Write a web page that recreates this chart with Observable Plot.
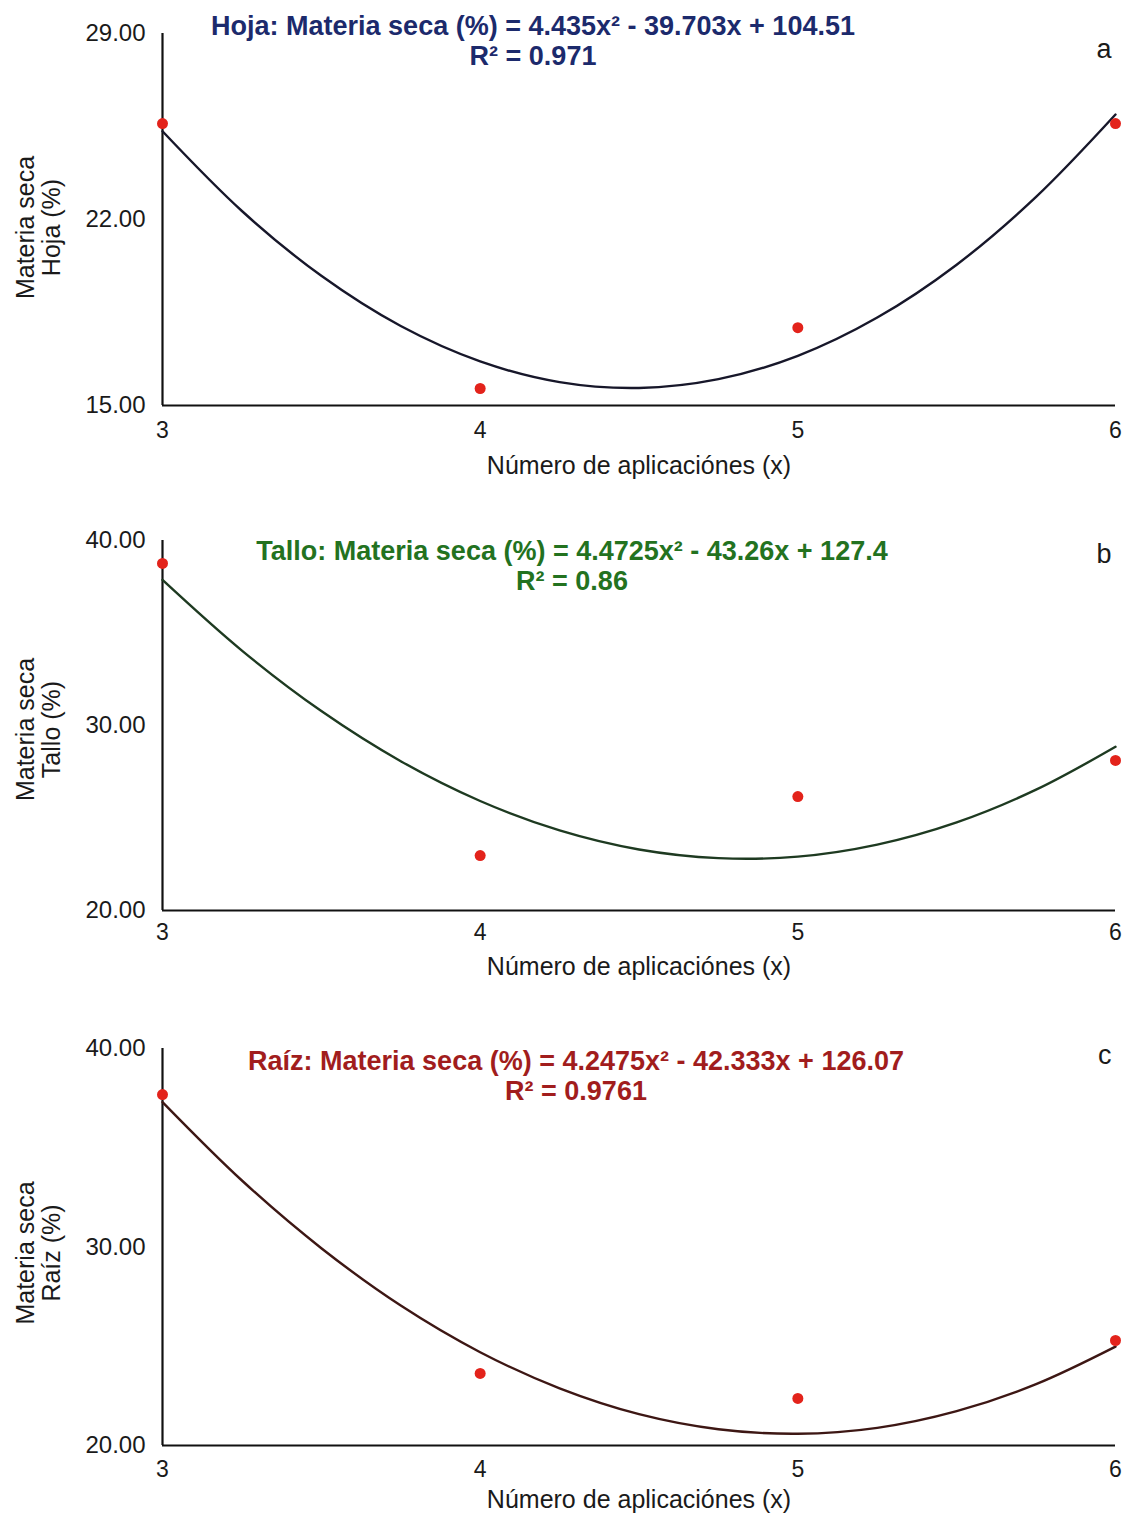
<!DOCTYPE html>
<html>
<head>
<meta charset="utf-8">
<script src="https://cdn.jsdelivr.net/npm/d3@7"></script>
<script src="https://cdn.jsdelivr.net/npm/@observablehq/plot@0.6"></script>
<style>
  body { margin: 0; background: #fff; }
  #chart { width: 1129px; }
  #chart svg { display: block; }
</style>
</head>
<body>
<div id="chart"></div>
<script>
// ---- Data ----
const applications = [3, 4, 5, 6];
const hojaValues  = [25.61, 15.64, 17.93, 25.61];
const talloValues = [38.76, 22.97, 26.16, 28.11];
const raizValues  = [37.68, 23.63, 22.37, 25.29];

// fitted (trend) curve values
const fitX      = [3, 3.25, 3.5, 3.75, 4, 4.25, 4.5, 4.75, 5, 5.25, 5.5, 5.75, 6];
const hojaFit   = [25.32, 22.32, 19.88, 17.99, 16.66, 15.88, 15.66, 15.99, 16.87, 18.31, 20.30, 22.85, 25.95];
const talloFit  = [37.87, 34.05, 30.78, 28.07, 25.92, 24.33, 23.30, 22.83, 22.91, 23.56, 24.76, 26.53, 28.85];
const raizFit   = [37.30, 33.35, 29.94, 27.05, 24.70, 22.88, 21.58, 20.82, 20.59, 20.89, 21.73, 23.09, 24.98];

const equations = [
  "Hoja: Materia seca (%) = 4.435x² - 39.703x + 104.51\nR² = 0.971",
  "Tallo: Materia seca (%) = 4.4725x² - 43.26x + 127.4\nR² = 0.86",
  "Raíz: Materia seca (%) = 4.2475x² - 42.333x + 126.07\nR² = 0.9761"
];
const yLabels = ["Materia seca\nHoja (%)", "Materia seca\nTallo (%)", "Materia seca\nRaíz (%)"];
const panelLetters = ["a", "b", "c"];
const yTicks = [[15, 22, 29], [20, 30, 40], [20, 30, 40]];
const xTicks = [3, 4, 5, 6];
const xLabel = "Número de aplicaciónes (x)";

// ---- Styling / layout (not data) ----
const panels = [
  {values: hojaValues,  fit: hojaFit,  height: 490, mt: 33, mb: 85, eqColor: "#1c2a6c", lineColor: "#17172a", eqDx: -106, eqDy: -20, letterDy: 5,  tickPad: 16, labelDy: 68, ylDy: 8},
  {values: talloValues, fit: talloFit, height: 510, mt: 50, mb: 90, eqColor: "#23721f", lineColor: "#1e3a21", eqDx: -67,  eqDy: -2,  letterDy: 3,  tickPad: 13, labelDy: 64, ylDy: 4},
  {values: raizValues,  fit: raizFit,  height: 515, mt: 48, mb: 70, eqColor: "#a11d1d", lineColor: "#3d1714", eqDx: -63,  eqDy: 0,   letterDy: -4, tickPad: 15, labelDy: 62, ylDy: 6}
];

const font = "'Liberation Sans', Arial, sans-serif";
const container = document.getElementById("chart");

panels.forEach((p, i) => {
  const pts = applications.map((x, k) => ({x, y: p.values[k]}));
  const curve = fitX.map((x, k) => ({x, y: p.fit[k]}));
  const yDomain = [yTicks[i][0], yTicks[i][yTicks[i].length - 1]];
  const chart = Plot.plot({
    width: 1129,
    height: p.height,
    marginTop: p.mt,
    marginBottom: p.mb,
    marginLeft: 162,
    marginRight: 14,
    style: {fontFamily: font, color: "#1a1a1a", background: "#fff", overflow: "visible"},
    x: {domain: [3, 6]},
    y: {domain: yDomain},
    marks: [
      Plot.axisY({ticks: yTicks[i], tickFormat: d3.format(".2f"), tickSize: 0, tickPadding: 17, fontSize: 24, label: null}),
      Plot.axisX({ticks: xTicks, tickFormat: d3.format("d"), tickSize: 0, tickPadding: p.tickPad, fontSize: 23, label: null}),
      Plot.ruleX([3], {stroke: "#111", strokeWidth: 2.2}),
      Plot.ruleY([yDomain[0]], {stroke: "#111", strokeWidth: 2.2}),
      Plot.line(curve, {x: "x", y: "y", curve: "catmull-rom", stroke: p.lineColor, strokeWidth: 2.4}),
      Plot.dot(pts, {x: "x", y: "y", r: 5.5, fill: "#e3231b", stroke: null}),
      Plot.text([equations[i]], {frameAnchor: "top", lineAnchor: "top", dx: p.eqDx, dy: p.eqDy, fontSize: 27, fontWeight: "bold", fill: p.eqColor, lineHeight: 1.12}),
      Plot.text([panelLetters[i]], {frameAnchor: "top-right", dx: -4, dy: p.letterDy, fontSize: 27, fill: "#1a1a1a"}),
      Plot.text([yLabels[i]], {frameAnchor: "left", textAnchor: "middle", rotate: -90, dx: -124, dy: p.ylDy, fontSize: 25, lineHeight: 1.05, fill: "#1a1a1a"}),
      Plot.text([xLabel], {frameAnchor: "bottom", dy: p.labelDy, fontSize: 25, fill: "#1a1a1a"})
    ]
  });
  container.appendChild(chart);
});
</script>
</body>
</html>
